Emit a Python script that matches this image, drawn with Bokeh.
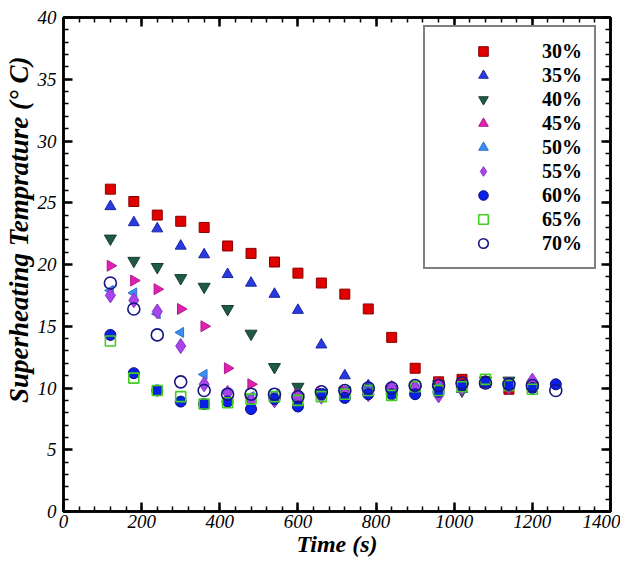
import math
from bokeh.plotting import figure
from bokeh.models import (Range1d, LinearAxis, Legend, LegendItem, SingleIntervalTicker,
                          ColumnDataSource, Title, CustomJSTickFormatter)
from bokeh.embed import file_html
from bokeh.resources import INLINE

# ---- data ----
t_all = [120, 180, 240, 300, 360, 420, 480, 540, 600, 660, 720, 780, 840, 900, 960, 1020, 1080, 1140, 1200, 1260]

s30 = [26.1, 25.1, 24.0, 23.5, 23.0, 21.5, 20.9, 20.2, 19.3, 18.5, 17.6, 16.4, 14.1, 11.6, 10.5, 10.7, 10.5, 9.9, 10.1]
s35 = [24.7, 23.4, 22.9, 21.5, 20.8, 19.2, 18.5, 17.6, 16.3, 13.5, 11.0, 10.2, 10.0, 9.8, 9.8, 9.9, 10.3, 10.2, 10.2]
s40 = [22.1, 20.3, 19.8, 18.9, 18.2, 16.4, 14.4, 11.7, 10.1, 9.6, 9.8, 9.7, 9.9, 9.9, 10.3, 9.8, 10.6, 10.6, 10.2]
s45 = [19.9, 18.7, 18.0, 16.4, 15.0, 11.6, 10.3, 9.2, 9.5, 9.6, 9.7, 9.8, 10.0, 10.1, 10.4, 10.3, 10.5, 10.4, 10.3]
s50 = [17.9, 17.7, 16.0, 14.5, 11.1, 9.6, 9.3, 9.4, 9.2, 9.6, 9.7, 9.9, 9.8, 10.0, 10.1, 10.2, 10.4, 10.3, 10.1]
s55 = [17.5, 17.1, 16.2, 13.4, 10.3, 9.6, 9.0, 9.0, 9.3, 9.3, 9.6, 9.5, 10.0, 10.0, 9.4, 10.0, 10.5, 10.1, 10.6]
s60 = [14.3, 11.2, 9.8, 8.9, 8.7, 8.9, 8.3, 9.1, 8.5, 9.5, 9.2, 9.5, 9.5, 9.5, 9.7, 10.2, 10.5, 10.2, 10.0, 10.3]
s65 = [13.8, 10.8, 9.8, 9.3, 8.7, 8.8, 9.1, 9.3, 9.0, 9.3, 9.5, 9.8, 9.4, 10.1, 9.8, 10.1, 10.7, 10.2, 9.9]
s70 = [18.5, 16.4, 14.3, 10.5, 9.8, 9.5, 9.5, 9.5, 9.3, 9.7, 9.8, 10.0, 10.0, 10.2, 10.2, 10.4, 10.4, 10.3, 10.2, 9.8]

labels = ["30%", "35%", "40%", "45%", "50%", "55%", "60%", "65%", "70%"]
x_title = "Time (s)"
y_title = "Superheating Temprature (° C)"

SERIF = "Liberation Serif"

p = figure(output_backend="svg", toolbar_location=None,
           frame_width=547, frame_height=494,
           x_range=Range1d(0, 1400), y_range=Range1d(0, 40),
           min_border_left=59, min_border_right=10, min_border_top=17, min_border_bottom=10,
           background_fill_color="white", border_fill_color="white")
p.xgrid.visible = False
p.ygrid.visible = False
p.outline_line_color = "black"
p.outline_line_width = 2.5

def style_axis(ax, show_labels=True):
    ax.axis_line_width = 2.5
    ax.axis_line_color = "black"
    ax.major_tick_in = 9
    ax.major_tick_out = 0
    ax.minor_tick_in = 5
    ax.minor_tick_out = 0
    ax.major_tick_line_width = 2.5
    ax.minor_tick_line_width = 1.5
    ax.major_tick_line_color = "black"
    ax.minor_tick_line_color = "black"
    ax.major_label_text_font = SERIF
    ax.major_label_text_font_style = "italic"
    ax.major_label_text_font_size = "19px"
    ax.major_label_text_color = "black"
    ax.axis_label_text_font = SERIF
    ax.axis_label_text_font_style = "bold italic"
    ax.axis_label_text_font_size = "24px"
    ax.axis_label_text_color = "black"
    if not show_labels:
        ax.formatter = CustomJSTickFormatter(code="return ''")
        ax.major_label_standoff = 0

p.xaxis.ticker = SingleIntervalTicker(interval=200, num_minor_ticks=5)
p.yaxis.ticker = SingleIntervalTicker(interval=5, num_minor_ticks=5)
style_axis(p.xaxis[0])
style_axis(p.yaxis[0])
p.xaxis.axis_label = x_title
p.xaxis.major_label_standoff = 3
p.yaxis.major_label_standoff = 7
p.xaxis.axis_label_standoff = 0

top = LinearAxis(ticker=SingleIntervalTicker(interval=200, num_minor_ticks=5))
style_axis(top, show_labels=False)
p.add_layout(top, "above")
right = LinearAxis(ticker=SingleIntervalTicker(interval=5, num_minor_ticks=5))
style_axis(right, show_labels=False)
p.add_layout(right, "right")

ytitle = Title(text=y_title, align="right", offset=39,
               text_font=SERIF, text_font_style="bold italic", text_font_size="27px",
               text_color="black", standoff=2)
p.add_layout(ytitle, "left")

series = [s30, s35, s40, s45, s50, s55, s60, s65, s70]
styles = [
    dict(marker="square", size=10, fill_color="#e00000", line_color="#8a0000", line_width=1, angle=0.0),
    dict(marker="triangle", size=11, fill_color="#2a3ae0", line_color="#1a2aa0", line_width=1, angle=0.0),
    dict(marker="inverted_triangle", size=12, fill_color="#1e5a44", line_color="#163f30", line_width=1, angle=0.0),
    dict(marker="triangle", size=11, fill_color="#e020b0", line_color="#b01890", line_width=1, angle=-math.pi / 2),
    dict(marker="triangle", size=10, fill_color="#3a90f0", line_color="#2a70d0", line_width=1, angle=math.pi / 2),
    dict(marker="diamond", size=15, fill_color="#a845ea", line_color="#8a30c8", line_width=1, angle=0.0),
    dict(marker="circle", size=11, fill_color="#0a20e6", line_color="#0a0a80", line_width=1, angle=0.0),
    dict(marker="square", size=10, fill_color=None, line_color="#44cc22", line_width=1.6, angle=0.0),
    dict(marker="circle", size=12, fill_color=None, line_color="#141482", line_width=1.6, angle=0.0),
]

items = []
for lab, ys, st in zip(labels, series, styles):
    src = ColumnDataSource(dict(x=t_all[:len(ys)], y=ys))
    r = p.scatter("x", "y", source=src, marker=st["marker"], size=st["size"],
                  fill_color=st["fill_color"], line_color=st["line_color"],
                  line_width=st["line_width"], angle=st["angle"])
    items.append(LegendItem(label=lab, renderers=[r]))

legend = Legend(items=items, location=(360, 242),
                label_text_font=SERIF, label_text_font_style="bold",
                label_text_font_size="20px", label_text_color="black",
                glyph_width=92, glyph_height=24, label_height=24, spacing=0,
                label_standoff=13, padding=12, margin=0,
                border_line_color="black", border_line_width=2.5,
                background_fill_color="white", background_fill_alpha=1.0)
p.add_layout(legend, "center")

open("out.html", "w").write(file_html(p, INLINE))
